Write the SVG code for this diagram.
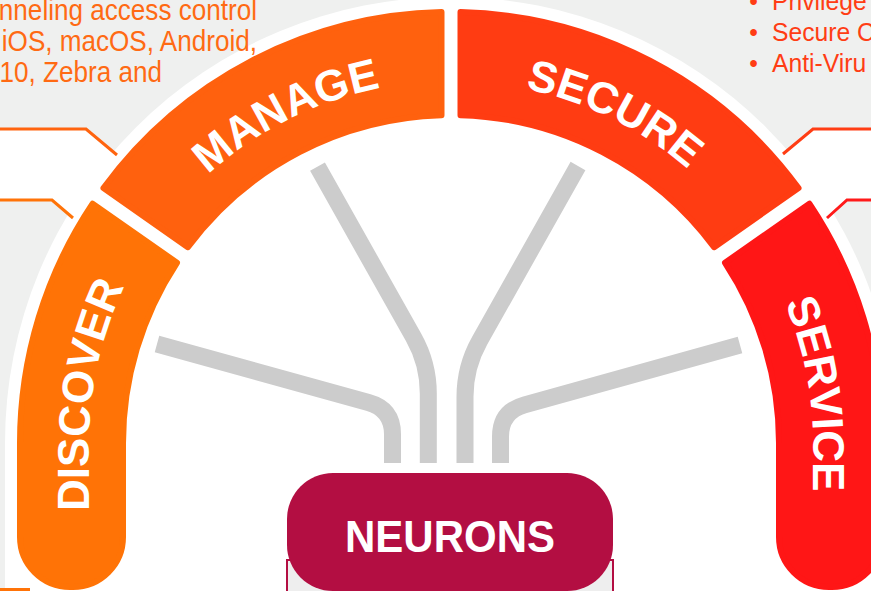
<svg xmlns="http://www.w3.org/2000/svg" width="871" height="591" viewBox="0 0 871 591">
<style>
.bg{fill:#eff0ef}
.white{fill:#ffffff}
.band{stroke-width:6;stroke-linejoin:round}
.lbl{font-family:"Liberation Sans",Arial,sans-serif;font-weight:bold;font-size:44px;fill:#ffffff}
.conn{fill:none;stroke:#cccccc;stroke-width:17;stroke-linecap:butt;stroke-linejoin:round}
.call{fill:none;stroke-width:3}
.ltxt{font-family:"Liberation Sans",Arial,sans-serif;font-size:29px;fill:#ff6a13}
.rtxt{font-family:"Liberation Sans",Arial,sans-serif;font-size:26px;fill:#ff3d14}
</style>
<defs>
<path id="lblpath" d="M89,600 L89,443 A362,362 0 0 1 813,443 L813,600"/>
</defs>
<rect class="bg" x="0" y="0" width="871" height="591"/>
<g id="callouts">
<polygon class="white" points="0,129 86,129 118,156 73,219 52,200 0,200"/>
<polygon class="white" points="871,129 813,129 783,155 827,219 847,200 871,200"/>
</g>
<path id="arch" class="white" d="M5,591 L5,443 A446,446 0 0 1 897,443 L897,591 Z"/>
<g id="callout-lines">
<polyline class="call" stroke="#ff640f" points="0,129 86,129 117,155"/>
<polyline class="call" stroke="#ff7308" points="0,200 52,200 73,218"/>
<polyline class="call" stroke="#ff3d14" points="871,129 813,129 783,154"/>
<polyline class="call" stroke="#ff1a1a" points="871,200 847,200 827,218"/>
<line class="call" stroke="#ff7308" x1="0" y1="589.5" x2="30" y2="589.5"/>
</g>
<g id="discover">
<path class="band" fill="#ff7306" stroke="#ff7306" d="M92.58,203.63 A431,431 0 0 0 20,443 L20,537 A50,50 0 0 0 70,587 L73,587 A50,50 0 0 0 123,537 L123,443 A328,328 0 0 1 176.98,262.73 Z"/>
<text class="lbl" text-anchor="middle"><textPath href="#lblpath" startOffset="204">DISCOVER</textPath></text>
</g>
<g id="manage">
<path class="band" fill="#ff610e" stroke="#ff610e" d="M103.48,188.07 A431,431 0 0 1 441.5,12.105 L441.5,115.138 A328,328 0 0 0 187.88,247.17 Z"/>
<text class="lbl" text-anchor="middle"><textPath href="#lblpath" startOffset="557">MANAGE</textPath></text>
</g>
<g id="secure">
<path class="band" fill="#ff3c12" stroke="#ff3c12" d="M460.5,12.105 A431,431 0 0 1 798.52,188.07 L714.12,247.17 A328,328 0 0 0 460.5,115.138 Z"/>
<text class="lbl" text-anchor="middle"><textPath href="#lblpath" startOffset="892">SECURE</textPath></text>
</g>
<g id="service">
<path class="band" fill="#ff1616" stroke="#ff1616" d="M809.42,203.63 A431,431 0 0 1 882,443 L882,537 A50,50 0 0 1 832,587 L829,587 A50,50 0 0 1 779,537 L779,443 A328,328 0 0 0 725.02,262.73 Z"/>
<text class="lbl" text-anchor="middle"><textPath href="#lblpath" startOffset="1246">SERVICE</textPath></text>
</g>
<g id="connectors">
<path class="conn" d="M157,344 L368.4,402.5 Q392.5,409.2 392.5,434.2 L392.5,463"/>
<path class="conn" d="M317.5,166.7 L413.6,337.4 Q428.3,363.5 428.3,393.5 L428.3,463"/>
<path class="conn" d="M578,166 L479.7,340.6 Q465,366.7 465,396.7 L465,463"/>
<path class="conn" d="M740,345 L524.6,404.9 Q500.5,411.6 500.5,436.6 L500.5,463"/>
</g>
<g id="neurons">
<rect x="287" y="560" width="326" height="40" fill="#eeeeee" stroke="#b30e42" stroke-width="2"/>
<rect x="287" y="473" width="326" height="118" rx="46" ry="46" fill="#b30e42"/>
<text x="450" y="552" text-anchor="middle" font-family="Liberation Sans, Arial, sans-serif" font-weight="bold" font-size="44" fill="#ffffff" textLength="210" lengthAdjust="spacingAndGlyphs">NEURONS</text>
</g>
<g id="text-left">
<g transform="translate(257,0) scale(0.9,1)">
<text class="ltxt" x="0" y="20" text-anchor="end">nneling access control</text>
<text class="ltxt" x="0" y="51" text-anchor="end">iOS, macOS, Android,</text>
</g>
<g transform="translate(162,0) scale(0.9,1)">
<text class="ltxt" x="0" y="82" text-anchor="end">10, Zebra and</text>
</g>
</g>
<g id="text-right">
<g transform="translate(772,0) scale(0.95,1)">
<text class="rtxt" x="-24" y="10">•</text>
<text class="rtxt" x="0" y="10">Privilege</text>
<text class="rtxt" x="-24" y="41.5">•</text>
<text class="rtxt" x="0" y="41.5">Secure C</text>
<text class="rtxt" x="-24" y="72.5">•</text>
<text class="rtxt" x="0" y="72.5">Anti-Viru</text>
</g>
</g>
</svg>
